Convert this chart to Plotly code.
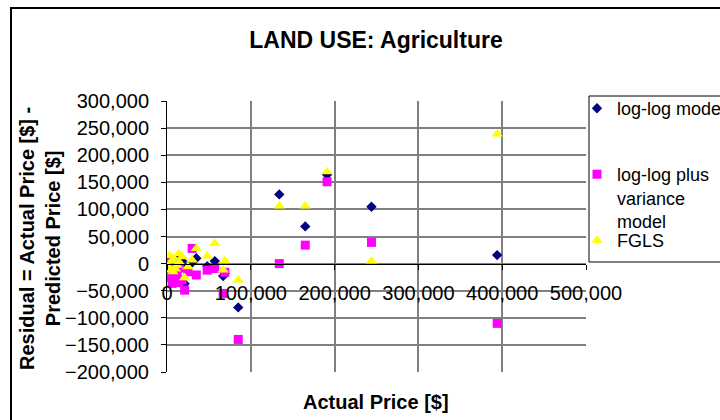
"""Residual scatter for agricultural land prices (three model fits)."""

import plotly.graph_objects as go

# Actual price of each parcel [$] (shared by the three residual series)
actual_price = [
    394000, 244000, 191000, 165000, 134000, 85000, 67000, 57000, 69000,
    48000, 35000, 30000, 21000, 18000, 6000, 2000, 8000, 12000, 4000,
    15000, 10000, 25000, 3000, 7000, 14000,
]

# Residual = actual - predicted [$]
resid_loglog = [
    15700, 104800, 164000, 68600, 127700, -80800, -23000, 4600, -18000,
    -5000, 10000, 2000, -37000, 5000, -8000, -3000, -15000, -2000, 3000,
    -10000, 6000, -4000, -12000, 0, 8000,
]
resid_loglog_var = [
    -110300, 39100, 151000, 34100, 0, -139900, -55000, -9000, -16000,
    -12000, -21000, 28000, -49000, -30000, -36500, 0, 3300, -20000, -25000,
    -8000, -5000, -15000, 5000, -30000, -35000,
]
resid_fgls = [
    239000, 4600, 169400, 106100, 106100, -30400, -12000, 37300, 5200,
    13800, 28000, 6500, -26000, 12500, 5000, -5000, 10000, -3000, -12000,
    2000, -10000, -6000, 15000, -15000, 18000,
]

x_ticks = [0, 100000, 200000, 300000, 400000, 500000]
x_grid = [100000, 200000, 300000, 400000]

FONT = "Arial, Liberation Sans, sans-serif"

# plot area in pixels
PLOT_L, PLOT_R, PLOT_T, PLOT_B = 167, 586, 101, 372


def px_x(px):
    return (px - PLOT_L) / (PLOT_R - PLOT_L)


def px_y(py):
    return (PLOT_B - py) / (PLOT_B - PLOT_T)


fig = go.Figure()

# empty trace so the grid-only axis x2 gets drawn
fig.add_trace(go.Scatter(
    x=[], y=[], xaxis="x2", yaxis="y", showlegend=False, hoverinfo="skip",
))
fig.add_trace(go.Scatter(
    x=actual_price, y=resid_loglog, mode="markers", name="log-log model",
    legend="legend",
    marker=dict(symbol="diamond", size=8, color="#000080",
                line=dict(width=0)),
))
fig.add_trace(go.Scatter(
    x=actual_price, y=resid_loglog_var, mode="markers",
    name="log-log plus<br>variance<br>model", legend="legend2",
    marker=dict(symbol="square", size=9, color="#FF00FF",
                line=dict(width=0)),
))
fig.add_trace(go.Scatter(
    x=actual_price, y=resid_fgls, mode="markers", name="FGLS",
    legend="legend3",
    marker=dict(symbol="triangle-up", size=10, color="#FFFF00",
                line=dict(width=0)),
))

legend_style = dict(
    x=px_x(577), xanchor="left", yanchor="top",
    bgcolor="rgba(0,0,0,0)", borderwidth=0,
    font=dict(size=18), valign="top",
)

fig.update_layout(
    width=720,
    height=420,
    margin=dict(l=PLOT_L, r=720 - PLOT_R, t=PLOT_T, b=420 - PLOT_B,
                autoexpand=False),
    paper_bgcolor="white",
    plot_bgcolor="white",
    font=dict(family=FONT, size=20, color="black"),
    title=dict(
        text="<b>LAND USE: Agriculture</b>",
        x=376 / 720, xanchor="center",
        y=1 - 40 / 420, yanchor="middle",
        font=dict(size=23),
    ),
    xaxis=dict(
        range=[0, 500000],
        tickvals=x_ticks,
        tickformat=",",
        showgrid=False,
        zeroline=False,
        showline=True, linecolor="black", linewidth=1,
        ticks="outside", ticklen=5, tickcolor="black",
        anchor="free", position=px_y(263.5),
        ticklabelstandoff=6,
        automargin=False,
    ),
    # grid-only axis so that no gridline is drawn at 500,000
    xaxis2=dict(
        range=[0, 500000],
        overlaying="x", anchor="y",
        tickvals=x_grid, showticklabels=False, ticks="",
        showgrid=True, gridcolor="#808080", gridwidth=2,
        zeroline=False, showline=False,
        automargin=False,
    ),
    yaxis=dict(
        range=[-200000, 300000],
        dtick=50000,
        tickformat=",",
        showgrid=True, gridcolor="#808080", gridwidth=2,
        zeroline=False,
        showline=True, linecolor="black", linewidth=1,
        ticks="outside", ticklen=5, tickcolor="black",
        ticklabelstandoff=8,
        automargin=False,
    ),
    legend=dict(y=px_y(90), **legend_style),
    legend2=dict(y=px_y(156), **legend_style),
    legend3=dict(y=px_y(222), **legend_style),
    showlegend=True,
    annotations=[
        dict(text="<b>Actual Price [$]</b>", xref="paper", yref="paper",
             x=px_x(376), y=px_y(402), showarrow=False,
             xanchor="center", yanchor="middle", font=dict(size=20)),
        dict(text="<b>Residual = Actual Price [$] -<br>Predicted Price [$]</b>",
             xref="paper", yref="paper", x=px_x(40), y=px_y(238),
             textangle=-90, showarrow=False,
             xanchor="center", yanchor="middle", font=dict(size=20)),
    ],
    shapes=[
        # outer chart frame (right and bottom edges run off the picture)
        dict(type="rect", xref="paper", yref="paper",
             x0=px_x(11), x1=px_x(760), y0=px_y(460), y1=px_y(8),
             line=dict(color="black", width=2), layer="below"),
        # legend frame
        dict(type="rect", xref="paper", yref="paper",
             x0=px_x(589), x1=px_x(760), y0=px_y(262), y1=px_y(96),
             line=dict(color="black", width=1)),
    ],
)

fig.write_html(
    "out.html",
    config={"displayModeBar": False},
    post_script="document.body.style.margin = '0';",
)
